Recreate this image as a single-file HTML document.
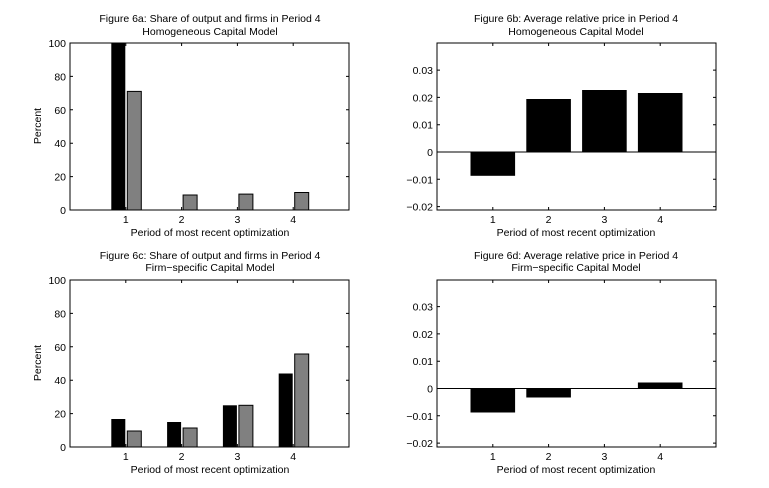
<!DOCTYPE html>
<html><head><style>body{margin:0;background:#fff}svg{display:block}text{font-family:"Liberation Sans",Arial,sans-serif;font-size:10.5px;fill:#000}</style></head><body>
<svg width="769" height="488" viewBox="0 0 769 488" xmlns="http://www.w3.org/2000/svg">
<rect width="769" height="488" fill="#fff"/>
<g id="tl">
<text x="210" y="22" text-anchor="middle">Figure 6a: Share of output and firms in Period 4</text>
<text x="210" y="35" text-anchor="middle">Homogeneous Capital Model</text>
<rect x="111.3" y="43" width="14" height="167" fill="#000"/>
<rect x="127.3" y="91.4" width="14" height="118.6" fill="#808080" stroke="#000"/>
<rect x="183.1" y="195" width="14" height="15" fill="#808080" stroke="#000"/>
<rect x="238.9" y="194.1" width="14" height="15.9" fill="#808080" stroke="#000"/>
<rect x="294.7" y="192.5" width="14" height="17.5" fill="#808080" stroke="#000"/>
<rect x="70" y="43" width="279" height="167" fill="none" stroke="#000"/>
<g stroke="#000"><path d="M70 176.6h3M70 143.2h3M70 109.8h3M70 76.4h3M349 176.6h-3M349 143.2h-3M349 109.8h-3M349 76.4h-3M125.8 210v-3M181.6 210v-3M237.4 210v-3M293.2 210v-3M125.8 43v3M181.6 43v3M237.4 43v3M293.2 43v3"/></g>
<g text-anchor="end"><text x="66" y="214">0</text><text x="66" y="180.6">20</text><text x="66" y="147.2">40</text><text x="66" y="113.8">60</text><text x="66" y="80.4">80</text><text x="66" y="47">100</text></g>
<g text-anchor="middle"><text x="125.8" y="223">1</text><text x="181.6" y="223">2</text><text x="237.4" y="223">3</text><text x="293.2" y="223">4</text>
<text x="210" y="236">Period of most recent optimization</text>
<text transform="translate(41,126) rotate(-90)">Percent</text></g>
</g>
<g id="bl">
<text x="210" y="259" text-anchor="middle">Figure 6c: Share of output and firms in Period 4</text>
<text x="210" y="271" text-anchor="middle">Firm−specific Capital Model</text>
<rect x="111.3" y="419" width="14" height="28" fill="#000"/>
<rect x="127.3" y="431" width="14" height="16" fill="#808080" stroke="#000"/>
<rect x="167.1" y="422" width="14" height="25" fill="#000"/>
<rect x="183.1" y="428" width="14" height="19" fill="#808080" stroke="#000"/>
<rect x="222.9" y="405.3" width="14" height="41.7" fill="#000"/>
<rect x="238.9" y="405.3" width="14" height="41.7" fill="#808080" stroke="#000"/>
<rect x="278.7" y="373.5" width="14" height="73.5" fill="#000"/>
<rect x="294.7" y="354" width="14" height="93" fill="#808080" stroke="#000"/>
<rect x="70" y="280" width="279" height="167" fill="none" stroke="#000"/>
<g stroke="#000"><path d="M70 413.6h3M70 380.2h3M70 346.8h3M70 313.4h3M349 413.6h-3M349 380.2h-3M349 346.8h-3M349 313.4h-3M125.8 447v-3M181.6 447v-3M237.4 447v-3M293.2 447v-3M125.8 280v3M181.6 280v3M237.4 280v3M293.2 280v3"/></g>
<g text-anchor="end"><text x="66" y="451">0</text><text x="66" y="417.6">20</text><text x="66" y="384.2">40</text><text x="66" y="350.8">60</text><text x="66" y="317.4">80</text><text x="66" y="284">100</text></g>
<g text-anchor="middle"><text x="125.8" y="460">1</text><text x="181.6" y="460">2</text><text x="237.4" y="460">3</text><text x="293.2" y="460">4</text>
<text x="210" y="473">Period of most recent optimization</text>
<text transform="translate(41,363) rotate(-90)">Percent</text></g>
</g>
<g id="tr">
<text x="576" y="22" text-anchor="middle">Figure 6b: Average relative price in Period 4</text>
<text x="576" y="35" text-anchor="middle">Homogeneous Capital Model</text>
<rect x="470.5" y="152" width="44.6" height="23.8" fill="#000"/>
<rect x="526.3" y="99" width="44.6" height="53" fill="#000"/>
<rect x="582.1" y="90" width="44.6" height="62" fill="#000"/>
<rect x="637.9" y="93" width="44.6" height="59" fill="#000"/>
<rect x="437" y="43" width="279" height="167" fill="none" stroke="#000"/>
<g stroke="#000"><path d="M437 152h279M437 206.6h3M437 179.3h3M437 124.7h3M437 97.4h3M437 70.1h3M716 206.6h-3M716 179.3h-3M716 124.7h-3M716 97.4h-3M716 70.1h-3M492.8 210v-3M548.6 210v-3M604.4 210v-3M660.2 210v-3M492.8 43v3M548.6 43v3M604.4 43v3M660.2 43v3"/></g>
<g text-anchor="end"><text x="433" y="210.6">−0.02</text><text x="433" y="183.3">−0.01</text><text x="433" y="156">0</text><text x="433" y="128.7">0.01</text><text x="433" y="101.4">0.02</text><text x="433" y="74.1">0.03</text></g>
<g text-anchor="middle"><text x="492.8" y="223">1</text><text x="548.6" y="223">2</text><text x="604.4" y="223">3</text><text x="660.2" y="223">4</text>
<text x="576" y="236">Period of most recent optimization</text></g>
</g>
<g id="br">
<text x="576" y="259" text-anchor="middle">Figure 6d: Average relative price in Period 4</text>
<text x="576" y="271" text-anchor="middle">Firm−specific Capital Model</text>
<rect x="470.5" y="388.5" width="44.6" height="24" fill="#000"/>
<rect x="526.3" y="388.5" width="44.6" height="9" fill="#000"/>
<rect x="637.9" y="382.5" width="44.6" height="6" fill="#000"/>
<rect x="437" y="280" width="279" height="167" fill="none" stroke="#000"/>
<g stroke="#000"><path d="M437 388.5h279M437 443.1h3M437 415.8h3M437 361.2h3M437 333.9h3M437 306.6h3M716 443.1h-3M716 415.8h-3M716 361.2h-3M716 333.9h-3M716 306.6h-3M492.8 447v-3M548.6 447v-3M604.4 447v-3M660.2 447v-3M492.8 280v3M548.6 280v3M604.4 280v3M660.2 280v3"/></g>
<g text-anchor="end"><text x="433" y="447.1">−0.02</text><text x="433" y="419.8">−0.01</text><text x="433" y="392.5">0</text><text x="433" y="365.2">0.01</text><text x="433" y="337.9">0.02</text><text x="433" y="310.6">0.03</text></g>
<g text-anchor="middle"><text x="492.8" y="460">1</text><text x="548.6" y="460">2</text><text x="604.4" y="460">3</text><text x="660.2" y="460">4</text>
<text x="576" y="473">Period of most recent optimization</text></g>
</g>
</svg>
</body></html>
